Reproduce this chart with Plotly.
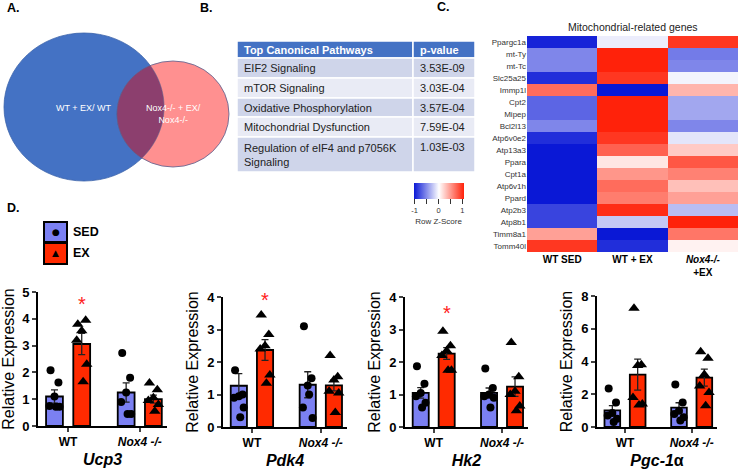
import numpy as np
import plotly.graph_objects as go

W, H = 739, 472
F = "Arial, Liberation Sans, sans-serif"

def PX(x):
    return x / W

def PY(y):
    return 1 - y / H

# ---------------- Data ----------------
# Panel B table
table_header = ["Top Canonical Pathways", "p-value"]
pathways = ["EIF2 Signaling", "mTOR Signaling", "Oxidative Phosphorylation",
            "Mitochondrial Dysfunction", "Regulation of eIF4 and p7056K<br>Signaling"]
pvalues = ["3.53E-09", "3.03E-04", "3.57E-04", "7.59E-04", "1.03E-03"]

# Panel C heatmap
heat_genes = ["Ppargc1a", "mt-Ty", "mt-Tc", "Slc25a25", "Immp1l", "Cpt2", "Mipep",
              "Bcl2l13", "Atp6v0e2", "Atp13a3", "Ppara", "Cpt1a", "Atp6v1h", "Ppard",
              "Atp2b3", "Atp8b1", "Timm8a1", "Tomm40l"]
heat_conditions = ["<b>WT SED</b>", "<b>WT + EX</b>", "<b><i>Nox4-/-</i><br>+EX</b>"]
heat_z = [
    [-1.00, -0.08, 0.95],
    [-0.55, 1.05, -0.60],
    [-0.55, 1.05, -0.55],
    [-0.95, 0.95, -0.05],
    [0.70, -1.05, 0.35],
    [-0.70, 1.05, -0.40],
    [-0.70, 1.05, -0.40],
    [-0.55, 1.05, -0.55],
    [-0.95, 0.95, -0.12],
    [-1.05, 0.75, 0.25],
    [-1.05, 0.12, 0.80],
    [-1.05, 0.50, 0.60],
    [-1.05, 0.70, 0.30],
    [-1.05, 0.62, 0.45],
    [-0.85, 1.00, -0.30],
    [-0.85, -0.25, 1.05],
    [0.45, -1.05, 0.65],
    [0.95, -0.95, 0.06],
]

# Panel D bar charts
groups = ["<b>WT</b>", "<b><i>Nox4 -/-</i></b>"]
genes = ["Ucp3", "Pdk4", "Hk2", "Pgc-1α"]
sed_mean = {"Ucp3": [1.10, 1.25], "Pdk4": [1.27, 1.30], "Hk2": [1.05, 1.05], "Pgc-1α": [1.02, 1.18]}
sed_sem = {"Ucp3": [0.25, 0.36], "Pdk4": [0.37, 0.40], "Hk2": [0.16, 0.15], "Pgc-1α": [0.28, 0.30]}
ex_mean = {"Ucp3": [3.06, 1.00], "Pdk4": [2.37, 1.28], "Hk2": [2.26, 1.24], "Pgc-1α": [3.20, 3.02]}
ex_sem = {"Ucp3": [0.40, 0.15], "Pdk4": [0.32, 0.17], "Hk2": [0.18, 0.30], "Pgc-1α": [0.95, 0.52]}
sed_points = {
    "Ucp3": [[2.08, 1.62, 1.10, 0.75, 0.72, 0.72], [2.72, 1.80, 1.25, 0.90, 0.45, 0.45]],
    "Pdk4": [[1.75, 1.00, 0.95, 0.90, 0.60, 0.30], [3.10, 1.50, 1.28, 0.60, 0.28, 1.00]],
    "Hk2": [[1.87, 1.33, 1.05, 0.95, 0.75, 0.60], [1.80, 1.20, 1.00, 0.95, 0.90, 0.60]],
    "Pgc-1α": [[2.35, 1.50, 0.85, 0.70, 0.50, 0.30], [2.60, 1.50, 1.00, 0.80, 0.60, 0.40]],
}
ex_points = {
    "Ucp3": [[3.80, 3.95, 3.55, 3.20, 2.30, 1.65], [1.60, 1.35, 1.05, 0.95, 0.80, 0.55]],
    "Pdk4": [[3.45, 2.85, 2.50, 2.40, 1.60, 1.35], [2.20, 1.55, 1.45, 1.10, 1.05, 0.45]],
    "Hk2": [[2.95, 2.50, 2.35, 2.20, 1.75, 1.75], [2.60, 1.55, 1.10, 1.00, 0.65, 0.50]],
    "Pgc-1α": [[7.25, 3.80, 3.75, 1.80, 1.40, 1.35], [4.60, 4.20, 3.20, 2.50, 2.10, 1.30]],
}
y_max = {"Ucp3": 5, "Pdk4": 4, "Hk2": 4, "Pgc-1α": 8}
y_dtick = {"Ucp3": 1, "Pdk4": 1, "Hk2": 1, "Pgc-1α": 2}
star_y = {"Ucp3": 4.55, "Pdk4": 3.9, "Hk2": 3.5}
gene_titles = {"Ucp3": "<b><i>Ucp3</i></b>", "Pdk4": "<b><i>Pdk4</i></b>",
               "Hk2": "<b><i>Hk2</i></b>", "Pgc-1α": "<b><i>Pgc-1</i>α</b>"}
legend_labels = ["SED", "EX"]

# ---------------- Layout geometry (pixels) ----------------
panel_px = [  # x0, x1, ytop, ybottom
    (38, 167, 292, 426),
    (223, 347, 297, 427),
    (405, 528, 297, 427),
    (597, 717, 296, 427),
]
jitter = [-0.055, 0.055, 0.0, -0.07, 0.07, 0.02]
OFF, BW = 0.19, 0.235
SED_COL, EX_COL = "#7B80F2", "#FF2A00"

fig = go.Figure()
layout_axes = {}
annotations = []
shapes = []

def ann(x, y, text, size, color="black", xanchor="center", **kw):
    d = dict(x=PX(x), y=PY(y), xref="paper", yref="paper", text=text, showarrow=False,
             xanchor=xanchor, yanchor="middle", font=dict(family=F, size=size, color=color))
    d.update(kw)
    annotations.append(d)

for i, g in enumerate(genes):
    n = "" if i == 0 else str(i + 1)
    xa, ya = "x" + n, "y" + n
    gx = np.arange(len(groups), dtype=float)
    for pos_sign, mean, sem, pts, col, sym, sz in [
        (-1, sed_mean[g], sed_sem[g], sed_points[g], SED_COL, "circle", 8),
        (1, ex_mean[g], ex_sem[g], ex_points[g], EX_COL, "triangle-up", 10),
    ]:
        bx = gx + pos_sign * OFF
        fig.add_trace(go.Bar(
            x=bx, y=mean, width=BW, xaxis=xa, yaxis=ya,
            marker=dict(color=col, line=dict(color="black", width=1.8)),
            error_y=dict(type="data", array=sem, color="#222", thickness=1.3, width=3.5),
            showlegend=False,
        ))
        px_, py_ = [], []
        for k in range(len(groups)):
            for j, v in enumerate(pts[k]):
                px_.append(bx[k] + jitter[j])
                py_.append(v)
        fig.add_trace(go.Scatter(
            x=px_, y=py_, mode="markers", xaxis=xa, yaxis=ya,
            marker=dict(symbol=sym, size=sz, color="black"),
            cliponaxis=False, showlegend=False,
        ))
    x0, x1, yt, yb = panel_px[i]
    layout_axes["xaxis" + n] = dict(
        domain=[PX(x0), PX(x1)], range=[-0.42, 1.38], anchor=ya, automargin=False,
        tickvals=list(gx), ticktext=groups,
        tickfont=dict(family=F, size=12, color="black"),
        showline=True, linecolor="black", linewidth=1.8, ticks="outside",
        ticklen=4, tickwidth=1.8, showgrid=False, zeroline=False,
        title=dict(text=gene_titles[g], font=dict(family=F, size=16, color="black"), standoff=6),
    )
    layout_axes["yaxis" + n] = dict(
        domain=[PY(yb), PY(yt)], range=[0, y_max[g]], anchor=xa, dtick=y_dtick[g],
        automargin=False,
        tickfont=dict(family=F, size=13, color="black", weight="bold"),
        showline=True, linecolor="black", linewidth=1.8, ticks="outside",
        ticklen=4, tickwidth=1.8, showgrid=False, zeroline=False,
        title=dict(text="Relative Expression", font=dict(family=F, size=16, color="black"), standoff=5),
    )
    if g in star_y:
        annotations.append(dict(x=OFF, y=star_y[g], xref=xa, yref=ya, text="*",
                                showarrow=False, xanchor="center", yanchor="middle",
                                font=dict(family=F, size=20, color="#FF2020")))

# ---------------- Heatmap ----------------
fig.add_trace(go.Heatmap(
    z=heat_z, x=heat_conditions, y=heat_genes, xaxis="x5", yaxis="y5",
    zmin=-1.05, zmax=1.05,
    colorscale=[[0, "#0A18D6"], [0.5, "#FFFFFF"], [1, "#FF220A"]],
    colorbar=dict(
        orientation="h", x=PX(438.5), xanchor="center", y=PY(183), yanchor="top",
        lenmode="pixels", len=50, thicknessmode="pixels", thickness=16,
        outlinewidth=0, xpad=0, ypad=0,
        ticks="outside", ticklen=5, tickwidth=1, tickcolor="#333",
        tickvals=[-1, -0.5, 0, 0.5, 1], ticktext=["-1", "", "0", "", "1"],
        tickfont=dict(family=F, size=7.5, color="#333"),
        title=dict(text="Row Z-Score", side="bottom", font=dict(family=F, size=8, color="#333")),
    ),
))
layout_axes["xaxis5"] = dict(
    domain=[PX(527), PX(738)], anchor="y5", automargin=False,
    tickfont=dict(family=F, size=10, color="black"),
    showgrid=False, zeroline=False, showline=False, ticks="",
)
layout_axes["yaxis5"] = dict(
    domain=[PY(252), PY(36)], anchor="x5", autorange="reversed", automargin=False,
    tickfont=dict(family=F, size=8, color="#333"),
    showgrid=False, zeroline=False, showline=False, ticks="",
)
ann(633, 27, "Mitochondrial-related genes", 10.5, "#222")

# ---------------- Table (panel B) ----------------
col_x = [237, 413, 475]
row_y = [41, 58, 78, 98, 117, 137, 172]
row_cols = ["#CFD5EA", "#E9EBF5"]
for r in range(len(row_y) - 1):
    for c in range(2):
        fill = "#4472C4" if r == 0 else row_cols[(r - 1) % 2]
        shapes.append(dict(type="rect", xref="paper", yref="paper",
                           x0=PX(col_x[c]), x1=PX(col_x[c + 1]), y0=PY(row_y[r + 1]), y1=PY(row_y[r]),
                           fillcolor=fill, line=dict(color="white", width=1.5), layer="below"))
    ym = (row_y[r] + row_y[r + 1]) / 2
    if r == 0:
        ann(col_x[0] + 5, ym, f"<b>{table_header[0]}</b>", 11, "white", xanchor="left")
        ann(col_x[1] + 5, ym, f"<b>{table_header[1]}</b>", 11, "white", xanchor="left")
    else:
        ann(col_x[0] + 5, ym, pathways[r - 1], 11, "#222", xanchor="left", align="left")
        ann(col_x[1] + 5, ym if "<br>" not in pathways[r - 1] else row_y[r] + 10,
            pvalues[r - 1], 11, "#222", xanchor="left")

# ---------------- Venn (panel A) ----------------
bc, brx, bry = (84, 107), 80, 74
pc, prx, pry = (173, 114), 56, 53
shapes.append(dict(type="circle", xref="paper", yref="paper",
                   x0=PX(bc[0] - brx), x1=PX(bc[0] + brx), y0=PY(bc[1] + bry), y1=PY(bc[1] - bry),
                   fillcolor="#4472C4", line=dict(color="#3A62AA", width=0.8), layer="below"))
shapes.append(dict(type="circle", xref="paper", yref="paper",
                   x0=PX(pc[0] - prx), x1=PX(pc[0] + prx), y0=PY(pc[1] + pry), y1=PY(pc[1] - pry),
                   fillcolor="#FF9090", line=dict(color="#55608F", width=0.8), layer="below"))

def inside(x, y, c, rx, ry):
    return ((x - c[0]) / rx) ** 2 + ((y - c[1]) / ry) ** 2 <= 1

t = np.linspace(0, 2 * np.pi, 721)
pxs = pc[0] + prx * np.cos(t)
pys = pc[1] + pry * np.sin(t)
m1 = inside(pxs, pys, bc, brx, bry)
t2 = np.linspace(-np.pi, np.pi, 721)
bxs = bc[0] + brx * np.cos(t2)
bys = bc[1] + bry * np.sin(t2)
m2 = inside(bxs, bys, pc, prx, pry)
lx = list(pxs[m1]) + list(bxs[m2])
ly = list(pys[m1]) + list(bys[m2])
path = "M " + " L ".join(f"{PX(a):.5f},{PY(b):.5f}" for a, b in zip(lx, ly)) + " Z"
shapes.append(dict(type="path", xref="paper", yref="paper", path=path,
                   fillcolor="#8C3F6E", line=dict(color="#55608F", width=0.6), layer="below"))

ann(84, 108, "WT + EX/ WT", 9, "white")
ann(173, 114, "Nox4-/- + EX/<br>Nox4-/-", 9, "white")

# ---------------- Legend for panel D ----------------
for (y0, y1, col, glyph, lab) in [(222, 242, SED_COL, "●", legend_labels[0]),
                                  (243, 264, EX_COL, "▲", legend_labels[1])]:
    shapes.append(dict(type="rect", xref="paper", yref="paper",
                       x0=PX(44), x1=PX(67), y0=PY(y1), y1=PY(y0),
                       fillcolor=col, line=dict(color="black", width=2)))
    annotations.append(dict(x=PX(55.5), y=PY((y0 + y1) / 2), xref="paper", yref="paper",
                            text=glyph, showarrow=False, xanchor="center", yanchor="middle",
                            font=dict(family="DejaVu Sans", size=9, color="black")))
    ann(71, (y0 + y1) / 2, f"<b>{lab}</b>", 12.5, xanchor="left")

# Panel letters
for lab, x, y in [("A.", 13, 8), ("B.", 206, 8), ("C.", 443, 7), ("D.", 13, 208)]:
    ann(x, y, f"<b>{lab}</b>", 12.5)

fig.update_layout(
    width=W, height=H, margin=dict(l=0, r=0, t=0, b=0, autoexpand=False),
    paper_bgcolor="white", plot_bgcolor="white",
    font=dict(family=F), showlegend=False,
    shapes=shapes, annotations=annotations, barmode="overlay",
    **layout_axes,
)

fig.write_html("out.html", config={"displayModeBar": False},
               post_script="document.body.style.margin='0';document.body.style.overflow='hidden';")
